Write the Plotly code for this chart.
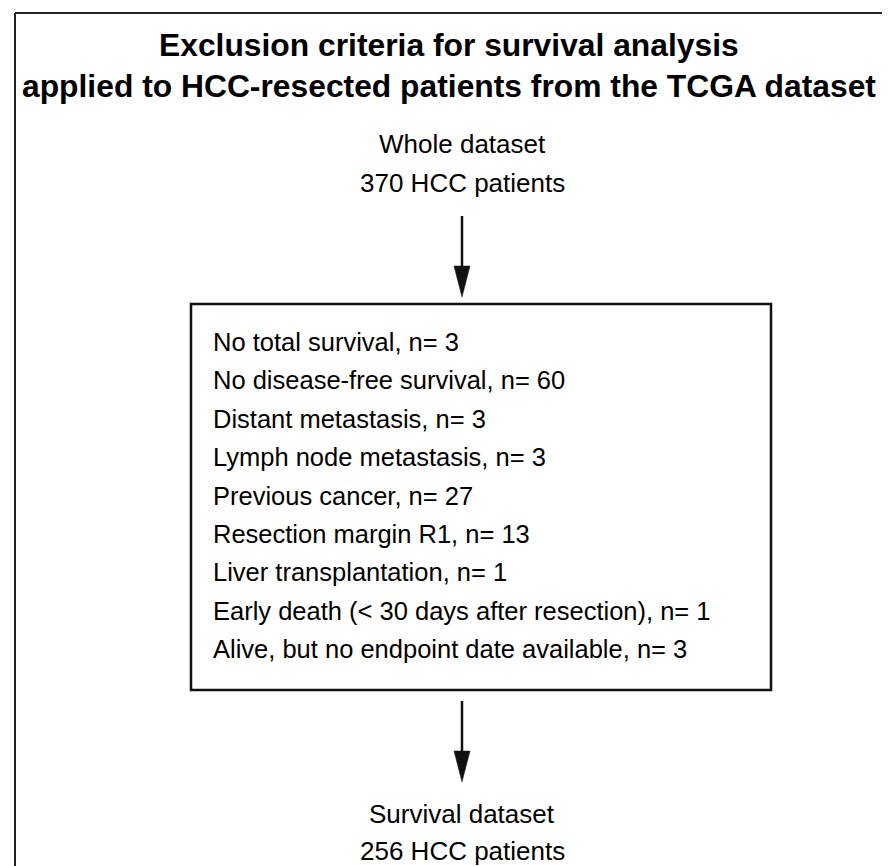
import plotly.graph_objects as go

# ---- data ----
title_lines = ["Exclusion criteria for survival analysis",
               "applied to HCC-resected patients from the TCGA dataset"]
start_label = "Whole dataset"
start_n = 370
criteria = ["No total survival",
            "No disease-free survival",
            "Distant metastasis",
            "Lymph node metastasis",
            "Previous cancer",
            "Resection margin R1",
            "Liver transplantation",
            "Early death (< 30 days after resection)",
            "Alive, but no endpoint date available"]
counts = [3, 60, 3, 3, 27, 13, 1, 1, 3]
end_label = "Survival dataset"
end_n = 256

# ---- layout helpers ----
W, H = 890, 866
FONT = "Liberation Sans, Arial, Helvetica, sans-serif"
CX = 454
BODY = 25.5
NODE = 26
LINE_COL = "#111111"

fig = go.Figure()
fig.add_trace(go.Scatter(x=[0, W], y=[0, H], mode="markers",
                         marker=dict(opacity=0), hoverinfo="skip", showlegend=False))

ann = []
# title
for i, t in enumerate(title_lines):
    ann.append(dict(x=441, y=37 + i * 41, text="<b>%s</b>" % t, showarrow=False,
                    xanchor="center", yanchor="middle",
                    font=dict(family=FONT, size=31.8, color="black")))
# start node
for i, t in enumerate([start_label, "%d HCC patients" % start_n]):
    ann.append(dict(x=CX, y=136 + i * 39, text=t, showarrow=False,
                    xanchor="center", yanchor="middle",
                    font=dict(family=FONT, size=NODE, color="black")))
# criteria
for i, (c, n) in enumerate(zip(criteria, counts)):
    ann.append(dict(x=203, y=334 + i * 38.4, text="%s, n= %d" % (c, n), showarrow=False,
                    xanchor="left", yanchor="middle",
                    font=dict(family=FONT, size=BODY, color="black")))
# end node
for i, t in enumerate([end_label, "%d HCC patients" % end_n]):
    ann.append(dict(x=CX, y=806 + i * 37, text=t, showarrow=False,
                    xanchor="center", yanchor="middle",
                    font=dict(family=FONT, size=NODE, color="black")))

shapes = []
# outer frame (top and left edges)
shapes.append(dict(type="line", x0=7, y0=5, x1=W, y1=5, line=dict(color="#222222", width=2)))
shapes.append(dict(type="line", x0=7, y0=5, x1=7, y1=H, line=dict(color="#222222", width=2)))
# exclusion box
shapes.append(dict(type="rect", x0=183, y0=296, x1=763, y1=682,
                   line=dict(color=LINE_COL, width=2.5), fillcolor="rgba(0,0,0,0)"))
# arrows
def arrow(y0, y1):
    head = 31
    shapes.append(dict(type="line", x0=CX, y0=y0, x1=CX, y1=y1 - head + 2,
                       line=dict(color=LINE_COL, width=2.5)))
    shapes.append(dict(type="path",
                       path="M %f,%f L %f,%f L %f,%f Z" % (CX - 8, y1 - head, CX + 8, y1 - head, CX, y1),
                       fillcolor=LINE_COL, line=dict(color=LINE_COL, width=0.5)))
arrow(208, 289)
arrow(693, 774)

fig.update_layout(
    width=W, height=H,
    margin=dict(l=0, r=0, t=0, b=0),
    paper_bgcolor="white", plot_bgcolor="white",
    xaxis=dict(range=[0, W], visible=False, fixedrange=True),
    yaxis=dict(range=[H, 0], visible=False, fixedrange=True),
    annotations=ann, shapes=shapes, showlegend=False,
)
fig.write_html("out.html")
